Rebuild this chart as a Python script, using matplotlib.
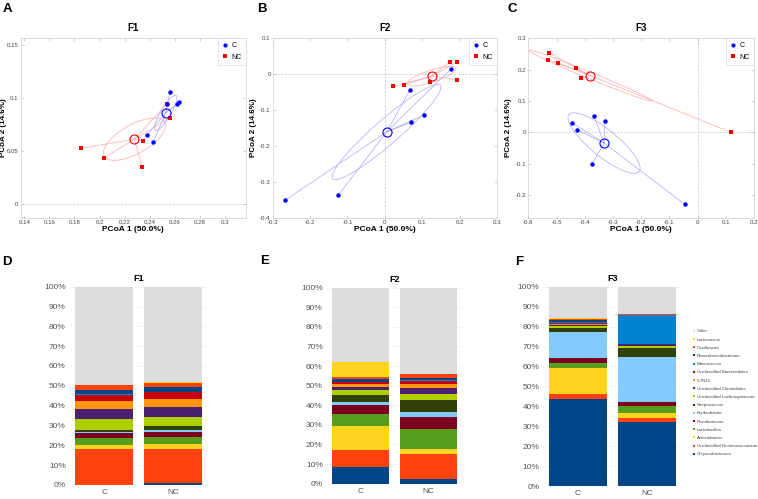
import numpy as np
import matplotlib
matplotlib.use("Agg")
import matplotlib.pyplot as plt
from matplotlib.patches import Ellipse
from matplotlib.lines import Line2D
from matplotlib.ticker import FuncFormatter

plt.rcParams["font.family"] = ["Liberation Sans", "DejaVu Sans"]

# ---- PCoA coordinates ----
f1_c_x = [0.2562, 0.254, 0.262, 0.2634, 0.2381, 0.2429]
f1_c_y = [0.106, 0.0947, 0.0943, 0.0959, 0.0654, 0.0585]
f1_nc_x = [0.2559, 0.2347, 0.2339, 0.2037, 0.1848, 0.2540]
f1_nc_y = [0.0811, 0.0597, 0.0349, 0.0434, 0.0522, 0.0947]

f2_c_x = [-0.266, -0.125, 0.0696, 0.1036, 0.0679, 0.177]
f2_c_y = [-0.350, -0.337, -0.134, -0.114, -0.043, 0.0147]
f2_nc_x = [0.0223, 0.050, 0.1196, 0.173, 0.194, 0.192]
f2_nc_y = [-0.034, -0.0294, -0.0211, 0.034, 0.034, -0.0147]

f3_c_x = [-0.367, -0.329, -0.446, -0.426, -0.375, -0.046]
f3_c_y = [0.051, 0.035, 0.031, 0.0074, -0.102, -0.230]
f3_nc_x = [-0.526, -0.531, -0.496, -0.430, -0.415, 0.118]
f3_nc_y = [0.254, 0.232, 0.222, 0.204, 0.173, 0.0]

f1_xticks = [0.14, 0.16, 0.18, 0.2, 0.22, 0.24, 0.26, 0.28, 0.3]
f1_yticks = [0, 0.05, 0.1, 0.15]
f2_xticks = [-0.3, -0.2, -0.1, 0, 0.1, 0.2, 0.3]
f2_yticks = [-0.4, -0.3, -0.2, -0.1, 0, 0.1]
f3_xticks = [-0.6, -0.5, -0.4, -0.3, -0.2, -0.1, 0, 0.1, 0.2]
f3_yticks = [-0.2, -0.1, 0, 0.1, 0.2, 0.3]

# ---- relative abundance (%), bottom to top ----
taxa = ["Chryseobacterium", "Unclassified Ruminococcaceae", "Acinetobacter",
        "Lactobacillus", "Pseudomonas", "Erythrobacter", "Streptococcus",
        "Unclassified Lachnospiraceae", "Unclassified Clostridiales", "5-7N15",
        "Unclassified Bacteroidales", "Macrococcus", "Phascolarctobacterium",
        "Oscillospira", "Lactococcus", "Other"]
taxa_colors = ["#004586", "#ff420e", "#ffd320", "#579d1c", "#7e0021", "#83caff",
               "#314004", "#aecf00", "#4b1f6f", "#ff950e", "#c5000b", "#0084d1",
               "#004586", "#ff420e", "#ffd320", "#dddddd"]
groups = ["C", "NC"]

f1_c = [0.2, 17.8, 2.0, 3.9, 2.3, 0.6, 1.0, 5.4, 5.0, 3.9, 3.5, 0.2, 2.3, 2.2, 0.2, 49.5]
f1_nc = [1.2, 16.8, 2.8, 3.4, 2.7, 0.8, 1.9, 4.9, 5.0, 3.7, 3.7, 0.2, 2.5, 1.7, 0.8, 47.9]
f2_c = [8.7, 8.6, 12.3, 6.1, 4.6, 1.2, 3.9, 2.4, 1.5, 1.4, 1.0, 0.4, 1.2, 0.9, 8.0, 37.8]
f2_nc = [2.6, 12.7, 2.6, 10.0, 6.3, 2.5, 6.0, 3.2, 2.9, 2.2, 1.4, 0.4, 1.2, 1.8, 0.2, 44.0]
f3_c = [43.5, 2.8, 12.7, 2.7, 2.3, 13.3, 2.0, 0.8, 0.5, 0.7, 0.5, 0.6, 0.7, 0.5, 0.7, 15.7]
f3_nc = [32.3, 2.0, 2.2, 3.8, 2.0, 22.2, 4.9, 0.8, 0.9, 0.2, 0.2, 14.1, 0.2, 0.4, 0.1, 13.7]

BLUE, RED = "#0000ff", "#ff0000"
LBLUE, LRED = "#a8a8ff", "#ffa8a8"
FRAME = "#d4d4d4"


def add_ellipse(ax, x, y, color, n_std=0.96):
    cov = np.cov(x, y, bias=True)
    vals, vecs = np.linalg.eigh(cov)
    order = vals.argsort()[::-1]
    vals, vecs = vals[order], vecs[:, order]
    angle = np.degrees(np.arctan2(vecs[1, 0], vecs[0, 0]))
    w, h = 2 * n_std * np.sqrt(vals)
    ax.add_patch(Ellipse((np.mean(x), np.mean(y)), w, h, angle=angle,
                         fill=False, edgecolor=color, lw=0.5))


def pcoa_panel(ax, title, cx, cy, ncx, ncy, xlim, ylim, xticks, yticks, ylab_x=-0.072):
    ax.axhline(0, ls="--", color="#c8c8c8", lw=0.5, zorder=0)
    ax.axvline(0, ls="--", color="#c8c8c8", lw=0.5, zorder=0)
    for x, y, col, lcol, mk, ms in [(ncx, ncy, RED, LRED, "s", 2.5),
                                    (cx, cy, BLUE, LBLUE, "o", 3.2)]:
        x, y = np.array(x), np.array(y)
        mx, my = x.mean(), y.mean()
        for xi, yi in zip(x, y):
            ax.plot([mx, xi], [my, yi], color=lcol, lw=0.5, zorder=1)
        add_ellipse(ax, x, y, lcol)
        ax.plot(x, y, mk, color=col, ms=ms, mew=0, zorder=3)
        ax.plot(mx, my, "o", mfc="none", mec=col, ms=6.5, mew=0.8, zorder=4)
    ax.set_xlim(xlim)
    ax.set_ylim(ylim)
    ax.set_xticks(xticks)
    ax.set_yticks(yticks)
    fmt = FuncFormatter(lambda v, p: "%g" % round(v, 3))
    ax.xaxis.set_major_formatter(fmt)
    ax.yaxis.set_major_formatter(fmt)
    ax.tick_params(direction="in", length=2, width=0.4, labelsize=4.4,
                   colors="#aaaaaa", labelcolor="#444444", pad=1.5)
    ax.tick_params(top=True, right=True)
    for s in ax.spines.values():
        s.set_color(FRAME)
        s.set_linewidth(0.6)
    ax.set_title(title, fontsize=7, fontweight="bold", pad=5)
    ax.set_xlabel("PCoA 1 (50.0%)", fontsize=6, fontweight="bold", labelpad=1)
    ax.set_ylabel("PCoA 2 (14.6%)", fontsize=5.8, fontweight="bold")
    ax.yaxis.set_label_coords(ylab_x, 0.5)
    handles = [Line2D([], [], ls="none", marker="o", color=BLUE, ms=3.0, mew=0),
               Line2D([], [], ls="none", marker="s", color=RED, ms=2.4, mew=0)]
    leg = ax.legend(handles, groups, loc="upper right", fontsize=5,
                    borderaxespad=0, handlelength=0.8, handletextpad=0.5,
                    fancybox=False, borderpad=0.6, labelspacing=0.6)
    leg.get_frame().set_edgecolor(FRAME)
    leg.get_frame().set_linewidth(0.5)


def bar_panel(ax, title, c_vals, nc_vals):
    bottoms = np.zeros(2)
    for i, name in enumerate(taxa):
        vals = np.array([c_vals[i], nc_vals[i]])
        ax.bar([0, 1], vals, width=0.84, bottom=bottoms, color=taxa_colors[i],
               label=name, zorder=2)
        bottoms += vals
    ax.set_xlim(-0.5, 1.5)
    ax.set_ylim(0, 100)
    ax.set_yticks(range(0, 101, 10))
    ax.yaxis.set_major_formatter(FuncFormatter(lambda v, p: "%d%%" % v))
    ax.set_xticks([0, 1])
    ax.set_xticklabels(groups)
    ax.grid(axis="y", color="#f0f0f0", lw=0.5, zorder=0)
    ax.tick_params(length=0, labelsize=6, labelcolor="#555555", pad=3)
    for s in ax.spines.values():
        s.set_visible(False)
    ax.set_title(title, fontsize=6.5, fontweight="bold", pad=4)


fig = plt.figure(figsize=(7.58, 4.99), dpi=100)

ax_a = fig.add_axes([0.0273, 0.5631, 0.2968, 0.3601])
ax_b = fig.add_axes([0.3598, 0.5631, 0.2959, 0.3601])
ax_c = fig.add_axes([0.6970, 0.5631, 0.2978, 0.3601])
pcoa_panel(ax_a, "F1", f1_c_x, f1_c_y, f1_nc_x, f1_nc_y,
           (0.1371, 0.3165), (-0.0135, 0.1563), f1_xticks, f1_yticks, ylab_x=-0.06)
pcoa_panel(ax_b, "F2", f2_c_x, f2_c_y, f2_nc_x, f2_nc_y,
           (-0.3, 0.3), (-0.4, 0.1), f2_xticks, f2_yticks)
pcoa_panel(ax_c, "F3", f3_c_x, f3_c_y, f3_nc_x, f3_nc_y,
           (-0.6, 0.2), (-0.274, 0.3), f3_xticks, f3_yticks)

ax_d = fig.add_axes([0.0923, 0.0281, 0.1820, 0.3974])
ax_e = fig.add_axes([0.4314, 0.0307, 0.1786, 0.3928])
ax_f = fig.add_axes([0.7170, 0.0260, 0.1820, 0.3994])
bar_panel(ax_d, "F1", f1_c, f1_nc)
bar_panel(ax_e, "F2", f2_c, f2_nc)
bar_panel(ax_f, "F3", f3_c, f3_nc)

h, l = ax_f.get_legend_handles_labels()
leg_handles = [Line2D([], [], ls="none", marker="s", color=hh.patches[0].get_facecolor(),
                      ms=1.5, mew=0) for hh in h]
fig.legend(leg_handles[::-1], l[::-1], loc="upper left",
           bbox_to_anchor=(0.912, 1 - 327 / 499), fontsize=3.2, frameon=False,
           handlelength=0.4, handletextpad=0.4, labelspacing=0.92, borderpad=0,
           labelcolor="#444444")

for letter, x, y in [("A", 3, 3), ("B", 257, 3), ("C", 508, 3),
                     ("D", 2, 256), ("E", 260, 255), ("F", 515, 256)]:
    fig.text(x / 758, 1 - y / 499, letter, fontsize=9.5, fontweight="bold",
             ha="left", va="top")

fig.savefig("out.png", dpi=100)
